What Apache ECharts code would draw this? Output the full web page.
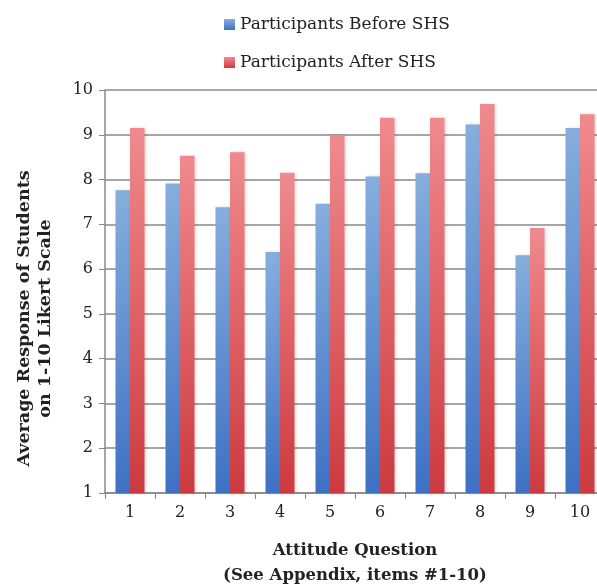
<!DOCTYPE html>
<html><head><meta charset="utf-8">
<script src="https://cdn.jsdelivr.net/npm/echarts@6/dist/echarts.min.js"></script>
<style>html,body{margin:0;padding:0;background:#fff}#c{width:597px;height:586px}</style>
</head><body><div id="c"></div>
<script>
const categories = ['1','2','3','4','5','6','7','8','9','10'];
const before = [7.76, 7.91, 7.38, 6.38, 7.46, 8.07, 8.14, 9.23, 6.31, 9.15];
const after = [9.15, 8.53, 8.61, 8.15, 8.99, 9.38, 9.38, 9.69, 6.92, 9.46];
const seriesNames = ['Participants Before SHS', 'Participants After SHS'];
const yTicks = { min: 1, max: 10, interval: 1 };

const font = '"DejaVu Serif", serif';
function grad(top, bottom) {
  return new echarts.graphic.LinearGradient(0, 0, 0, 1, [
    { offset: 0, color: top }, { offset: 1, color: bottom }
  ]);
}
const chart = echarts.init(document.getElementById('c'));
chart.setOption({
  animation: false,
  legend: {
    orient: 'vertical', left: 219, top: 11, itemGap: 21,
    itemWidth: 11, itemHeight: 11, itemStyle: { borderWidth: 0 },
    textStyle: { fontFamily: font, fontSize: 17, color: '#222' },
    data: [
      { name: seriesNames[0], icon: 'rect', itemStyle: { color: grad('#86AEDD', '#3E71C4') } },
      { name: seriesNames[1], icon: 'rect', itemStyle: { color: grad('#F08A8E', '#CC3A3E') } }
    ]
  },
  grid: { left: 105, right: -8, top: 90, bottom: 93, outerBoundsMode: 'none', containLabel: false },
  xAxis: {
    type: 'category', data: categories,
    name: 'Attitude Question\n(See Appendix, items #1-10)',
    nameLocation: 'middle', nameGap: 45.5,
    nameTextStyle: { fontFamily: font, fontSize: 16.5, fontWeight: 'bold', color: '#222', lineHeight: 25 },
    axisLine: { lineStyle: { color: '#888', width: 1.5 } },
    axisTick: { show: true, length: 6, lineStyle: { color: '#888' } },
    axisLabel: { fontFamily: font, fontSize: 16, color: '#222', margin: 12 },
    splitLine: { show: false }
  },
  yAxis: {
    type: 'value', min: yTicks.min, max: yTicks.max, interval: yTicks.interval,
    name: 'Average Response of Students\non 1-10 Likert Scale',
    nameLocation: 'middle', nameGap: 49, nameRotate: 90,
    nameTextStyle: { fontFamily: font, fontSize: 17.5, fontWeight: 'bold', color: '#222', lineHeight: 21, padding: [0, 54, 0, 0] },
    axisLine: { show: true, lineStyle: { color: '#888', width: 1.5 } },
    axisTick: { show: true, length: 6, inside: false, lineStyle: { color: '#888' } },
    axisLabel: { fontFamily: font, fontSize: 16, color: '#222', margin: 12 },
    splitLine: { lineStyle: { color: '#888', width: 1.5 } }
  },
  series: [
    { name: seriesNames[0], type: 'bar', data: before, barWidth: 14.5, barGap: '0%',
      itemStyle: { color: grad('#86AEDD', '#3E71C4'), shadowColor: 'rgba(0,0,0,0.15)', shadowBlur: 3, shadowOffsetX: 1 } },
    { name: seriesNames[1], type: 'bar', data: after, barWidth: 14.5, barGap: '0%',
      itemStyle: { color: grad('#F08A8E', '#CC3A3E'), shadowColor: 'rgba(0,0,0,0.15)', shadowBlur: 3, shadowOffsetX: 1 } }
  ]
});
</script></body></html>
